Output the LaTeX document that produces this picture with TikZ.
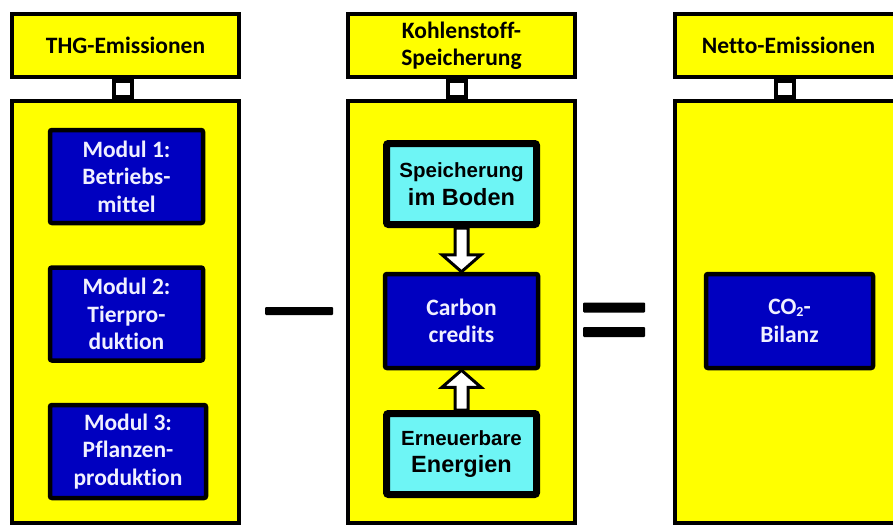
\documentclass[tikz,border=0pt]{standalone}
\usepackage{fontspec}
\setmainfont{Carlito}[Ligatures=NoCommon]
\newfontfamily\arialf{Liberation Sans}
\usetikzlibrary{calc}
\definecolor{ylw}{RGB}{255,255,0}
\definecolor{dblue}{RGB}{0,0,192}
\definecolor{lcyan}{RGB}{110,245,245}
\definecolor{wtxt}{RGB}{240,240,255}
\tikzset{
  colbox/.style={draw=black, line width=4pt, fill=ylw, minimum width=227pt, minimum height=422pt, inner sep=0pt},
  headbox/.style={draw=black, line width=4pt, fill=ylw, minimum width=227pt, minimum height=63pt, inner sep=0pt, align=center, font=\bfseries\fontsize{23.5}{27.5}\selectfont},
  linkbox/.style={draw=black, line width=4pt, fill=white, minimum width=18pt, minimum height=16pt, inner sep=0pt},
  modbox/.style={draw=black, line width=4.5pt, fill=dblue, rounded corners=2pt, minimum width=153pt, minimum height=93pt, inner sep=0pt, align=center, text=wtxt, font=\bfseries\fontsize{23.5}{27.5}\selectfont},
  srcbox/.style={draw=black, line width=7pt, fill=lcyan, rounded corners=2pt, minimum width=150pt, minimum height=81pt, inner sep=0pt, align=center, text=black, font=\arialf\bfseries\fontsize{20.5}{27.5}\selectfont},
  barrow/.style={draw=black, line width=3pt, fill=white, line join=miter},
  opbar/.style={fill=black, inner sep=0pt, rounded corners=1pt}
}
\begin{document}
\begin{tikzpicture}[x=1pt, y=-1pt]
\useasboundingbox (0,0) rectangle (893,527);
\clip (0,0) rectangle (893,527);
% columns
\node[colbox] (cL) at (125.5,312) {};
\node[colbox] (cM) at (461.5,312) {};
\node[colbox] (cR) at (788.5,312) {};
% headers
\node[headbox] (hL) at (125.5,45.5) {THG-Emissionen};
\node[headbox] (hM) at (461.5,45.5) {Kohlenstoff-\\Speicherung};
\node[headbox] (hR) at (788.5,45.5) {Netto-Emissionen};
% links
\node[linkbox] (lL) at (123,89) {};
\node[linkbox] (lM) at (456.5,89) {};
\node[linkbox] (lR) at (785,89) {};
% modules
\node[modbox] (m1) at (126.5,176.5) {Modul 1:\\Betriebs-\\mittel};
\node[modbox] (m2) at (126.5,314) {Modul 2:\\Tierpro-\\duktion};
\node[modbox, minimum width=156pt] (m3) at (128,451.5) {Modul 3:\\Pflanzen-\\produktion};
% middle column
\node[srcbox] (sp) at (461.5,184) {Speicherung\\{\fontsize{23.5}{27.5}\selectfont im Boden}};
\node[modbox, minimum height=94pt] (cc) at (461.5,321) {Carbon\\credits};
\node[srcbox] (er) at (461.5,454) {Erneuerbare\\{\fontsize{23.5}{27.5}\selectfont Energien}};
% right column
\node[modbox, minimum width=167pt, minimum height=94pt] (co) at (789.5,321) {CO{\fontsize{14}{14}\selectfont\raisebox{-1.5pt}{2}}-\\Bilanz};
% arrows
\draw[barrow] ($(sp.south)+(-6.5,0)$) -- ($(cc.north)+(-6.5,-17)$) -- ($(cc.north)+(-19.5,-17)$) -- (cc.north) -- ($(cc.north)+(19.5,-17)$) -- ($(cc.north)+(6.5,-17)$) -- ($(sp.south)+(6.5,0)$) -- cycle;
\draw[barrow] ($(er.north)+(-6.5,0)$) -- ($(cc.south)+(-6.5,17)$) -- ($(cc.south)+(-19.5,17)$) -- (cc.south) -- ($(cc.south)+(19.5,17)$) -- ($(cc.south)+(6.5,17)$) -- ($(er.north)+(6.5,0)$) -- cycle;
% operators
\node[opbar, minimum width=68pt, minimum height=8pt] (minus) at (299,311) {};
\node[opbar, minimum width=62pt, minimum height=10pt] (eqA) at (614,307.5) {};
\node[opbar, minimum width=62pt, minimum height=10pt] (eqB) at (614,332) {};
\end{tikzpicture}
\end{document}
